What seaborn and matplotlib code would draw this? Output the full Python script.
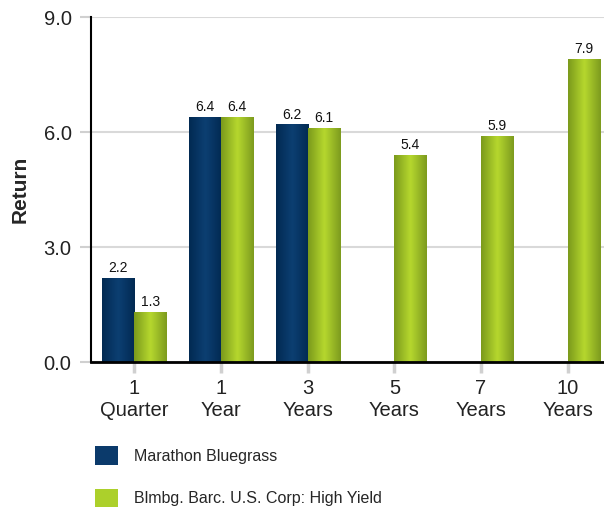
import numpy as np
import pandas as pd
import matplotlib
matplotlib.use("Agg")
import matplotlib.pyplot as plt
import seaborn as sns
from matplotlib.colors import LinearSegmentedColormap
from matplotlib.patches import Patch

# data
periods = ["1\nQuarter", "1\nYear", "3\nYears", "5\nYears", "7\nYears", "10\nYears"]
marathon = [2.2, 6.4, 6.2, np.nan, np.nan, np.nan]
high_yield = [1.3, 6.4, 6.1, 5.4, 5.9, 7.9]
series_names = ["Marathon Bluegrass", "Blmbg. Barc. U.S. Corp: High Yield"]

df = pd.DataFrame({
    "period": periods * 2,
    "ret": marathon + high_yield,
    "series": [series_names[0]] * 6 + [series_names[1]] * 6,
})

base_colors = {series_names[0]: "#0b3866", series_names[1]: "#a5c825"}
# edge / highlight / edge for the cylinder look
shades = {
    series_names[0]: ["#022a52", "#0c3f72", "#022a52"],
    series_names[1]: ["#7b9a1c", "#b6d82e", "#7d9b1e"],
}

sns.set_style("white")
plt.rcParams["font.family"] = ["Liberation Sans", "DejaVu Sans"]

fig = plt.figure(figsize=(6.04, 5.11), dpi=100)
ax = fig.add_axes([91 / 604, 1 - 362 / 511, 520 / 604, 345 / 511])

sns.barplot(data=df, x="period", y="ret", hue="series", palette=base_colors,
            width=0.74, ax=ax, legend=False, errorbar=None)

# value labels + gradient fill
for cont, name in zip(ax.containers, series_names):
    ax.bar_label(cont, fmt="%.1f", padding=2, fontsize=10, color="#111111")
    cmap = LinearSegmentedColormap.from_list(name, shades[name])
    grad = np.linspace(0, 1, 64).reshape(1, -1)
    for p in cont.patches:
        h = p.get_height()
        if not np.isfinite(h) or h == 0:
            continue
        x0, w = p.get_x(), p.get_width()
        im = ax.imshow(grad, cmap=cmap, aspect="auto", zorder=p.get_zorder(),
                       extent=[x0, x0 + w, 0, h], interpolation="bicubic")
        im.set_clip_path(p)
        p.set_facecolor("none")
        p.set_edgecolor("none")

ax.set_xlim(-0.5, 5.5)
ax.set_ylim(0, 9.0)
ax.set_yticks([0, 3, 6, 9])
ax.set_yticklabels(["0.0", "3.0", "6.0", "9.0"])
ax.yaxis.grid(True, color="#d9d9d9", linewidth=1.5)
ax.set_axisbelow(True)

ax.set_xlabel("")
ax.set_ylabel("Return", fontsize=15, fontweight="bold", labelpad=10)

for s in ["top", "right"]:
    ax.spines[s].set_visible(False)
ax.spines["left"].set_color("black")
ax.spines["left"].set_linewidth(1.5)
ax.spines["bottom"].set_color("black")
ax.spines["bottom"].set_linewidth(2)

ax.tick_params(axis="y", length=8, width=1.5, color="#d0d0d0", pad=6,
               labelsize=14.5, labelcolor="#222222", left=True)
ax.tick_params(axis="x", length=8, width=2.5, color="#d0d0d0", pad=4,
               labelsize=14.5, labelcolor="#222222", bottom=True)

handles = [Patch(facecolor="#0b3a6b", edgecolor="none"),
           Patch(facecolor="#acd02b", edgecolor="none")]
fig.legend(handles, series_names, loc="upper left",
           bbox_to_anchor=(89 / 604, 1 - 440 / 511), frameon=False,
           fontsize=11.5, handlelength=1.4, handleheight=1.4,
           labelspacing=1.5, handletextpad=1.0, borderaxespad=0)

fig.savefig("out.png", dpi=100)
